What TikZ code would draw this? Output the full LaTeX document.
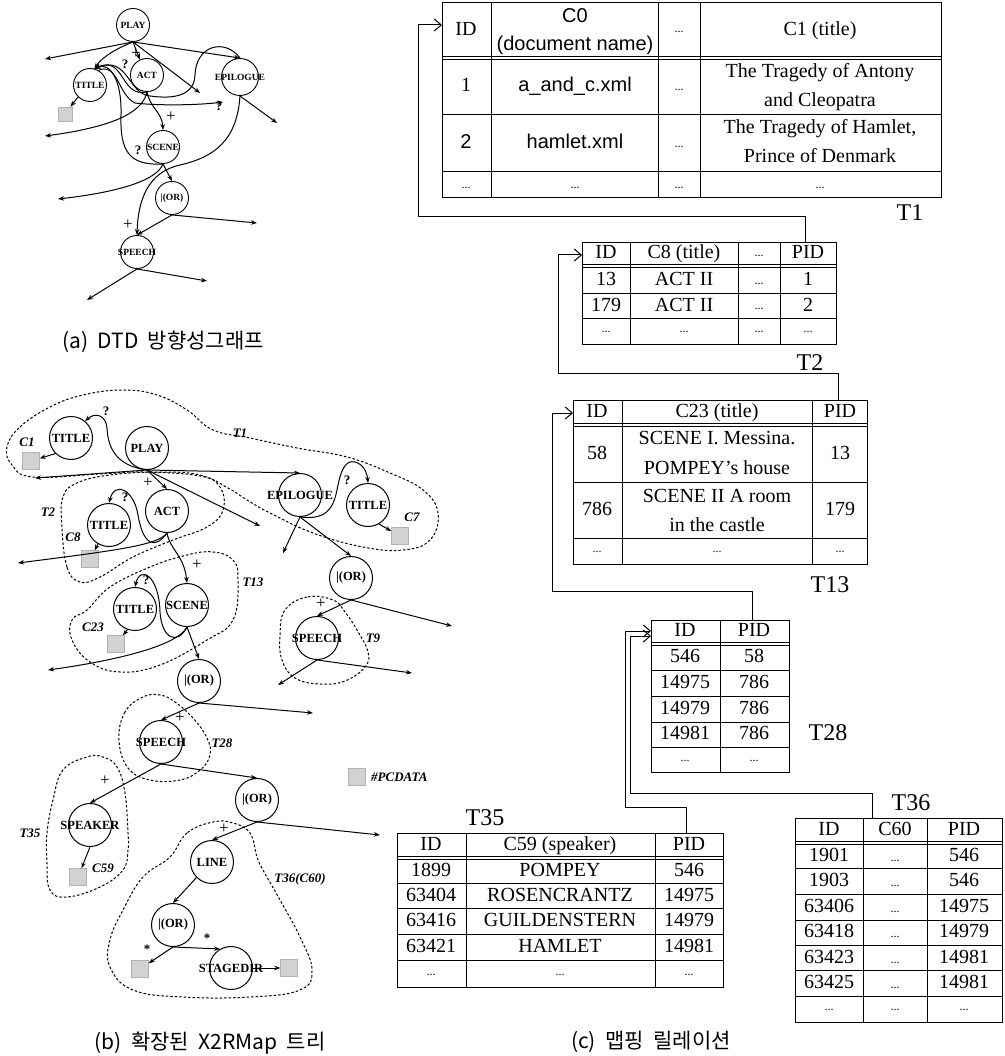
\documentclass[tikz,border=0pt]{standalone}
\usepackage{fontspec}
\setmainfont{Liberation Serif}
\setsansfont{Liberation Sans}
\newfontfamily\krfont{Noto Sans CJK KR}
\usetikzlibrary{arrows.meta}

\newcommand{\tdots}{{\fontsize{12}{12}\selectfont...}}
\newcommand{\captfont}{\krfont\fontsize{21}{21}\selectfont\spaceskip=0.45em\relax}

\tikzset{
  elem/.style={circle,draw,line width=1pt,minimum size=43pt,inner sep=0pt,
    label={[font=\fontsize{12.5}{13}\selectfont\bfseries,inner sep=0pt]center:#1}},
  selem/.style={circle,draw,line width=0.9pt,minimum size=33pt,inner sep=0pt,
    label={[font=\fontsize{9.5}{10}\selectfont\bfseries,inner sep=0pt]center:#1}},
  pcdata/.style={draw=gray!60,fill=gray!35,minimum size=17pt,inner sep=0pt},
  spcdata/.style={pcdata,minimum size=14pt},
  dtdedge/.style={line width=1pt,-{Stealth[length=6pt,width=4.5pt]}},
  mapzone/.style={line width=1pt,dash pattern=on 2.5pt off 2pt},
  occ/.style={font=\fontsize{13}{13}\selectfont\bfseries,inner sep=0pt},
  plusmark/.style={font=\fontsize{17}{17}\selectfont,inner sep=0pt},
  zonename/.style={font=\fontsize{13}{13}\selectfont\bfseries\itshape,inner sep=0pt},
  cell/.style={font=\fontsize{20}{24}\selectfont,inner sep=0pt,text height=14pt,text depth=4pt},
  tblframe/.style={draw,line width=1.2pt,inner sep=0pt,anchor=north west},
  tblline/.style={line width=1pt},
  tblname/.style={font=\fontsize{24}{24}\selectfont,inner sep=0pt},
  link/.style={line width=1pt,-{Straight Barb[length=7pt,width=12pt]}},
  capt/.style={font=\captfont,inner sep=0pt}
}

\begin{document}
\begin{tikzpicture}[x=1pt,y=-1pt]
  \useasboundingbox (0,0) rectangle (1004,1056);

  % (a) DTD graph
  \node[selem=PLAY] (aplay) at (133,25) {};
  \node[selem=TITLE] (atitle) at (90,85) {};
  \node[selem=ACT] (aact) at (147,75) {};
  \node[selem=EPILOGUE,minimum size=37pt] (aepi) at (240,77) {};
  \node[selem=SCENE] (ascene) at (163,147) {};
  \node[selem=|(OR)] (aor) at (172,198) {};
  \node[selem=SPEECH] (aspeech) at (137,252) {};
  \node[spcdata] (asq) at (65,114) {};

  \coordinate (aw1) at (45,59);
  \coordinate (aw2) at (200,93);
  \coordinate (aw3) at (277,123);
  \coordinate (aw4) at (257,223);
  \coordinate (aw5) at (87,300);
  \coordinate (aw6) at (207,281);
  \coordinate (aw7) at (223,102);
  \coordinate (aw8) at (45,136);
  \coordinate (aw9) at (58,199);

  \foreach \from/\to in {aplay.south/aw1,aplay.south/aw2,aplay.south/aepi.north,
      aplay.south/aact.115,atitle.225/asq,aepi.south/aw3,ascene.south/aor.north,
      aor.south/aspeech.north,aor.south/aw4,aspeech.south/aw5,aspeech.south/aw6}
    \draw[dtdedge] (\from) -- (\to);

  \draw[dtdedge] (aplay.south) .. controls (118,48) and (103,56) .. (atitle.75);
  \draw[dtdedge] (aact.south) .. controls (120,98) and (125,55) .. (atitle.75);
  \draw[dtdedge] (aepi.north) .. controls (225,38) and (196,45) .. (195,75)
    .. controls (194,100) and (165,98) .. (150,96)
    .. controls (128,94) and (128,55) .. (atitle.75);
  \draw[dtdedge] (ascene.south) .. controls (128,166) and (120,150) .. (121,115)
    .. controls (122,80) and (110,62) .. (atitle.75);
  \draw[dtdedge] (atitle.60) .. controls (118,62) and (118,95) .. (135,103)
    .. controls (160,106) and (200,105) .. (aw7);
  \draw[dtdedge] (aact.south) .. controls (143,110) and (120,126) .. (aw8);
  \draw[dtdedge] (ascene.south) .. controls (157,180) and (120,192) .. (aw9);
  \draw[dtdedge] (aact.south) .. controls (150,108) and (162,112) .. (ascene.north);
  \draw[dtdedge] (aepi.south) .. controls (237,140) and (215,157) .. (180,165)
    .. controls (148,172) and (138,200) .. (aspeech.north);

  \foreach \x/\y/\t [count=\i] in {125/64/?,219/106/?,138/150/?}
    \node[occ] (aq\i) at (\x,\y) {\t};
  \foreach \x/\y [count=\i] in {136/54,171/117,128/225}
    \node[plusmark] (ap\i) at (\x,\y) {+};

  \node[capt] (capa) at (163,342) {(a) DTD 방향성그래프};

  % (b) extended X2RMap tree
  \node[elem=PLAY] (bplay) at (147,448) {};
  \node[elem=TITLE] (bt1) at (71,438) {};
  \node[elem=EPILOGUE] (bepi) at (300,495) {};
  \node[elem=TITLE] (bt7) at (368,505) {};
  \node[elem=TITLE] (bt8) at (109,525) {};
  \node[elem=ACT] (bact) at (167,511) {};
  \node[elem=|(OR)] (bor1) at (351,578) {};
  \node[elem=SCENE] (bscene) at (187,605) {};
  \node[elem=TITLE] (bt23) at (135,609) {};
  \node[elem=|(OR)] (bor2) at (199,681) {};
  \node[elem=SPEECH] (bsp9) at (317,638) {};
  \node[elem=SPEECH] (bsp28) at (161,742) {};
  \node[elem=|(OR)] (bor3) at (257,800) {};
  \node[elem=SPEAKER] (bspk) at (90,825) {};
  \node[elem=LINE] (bline) at (212,862) {};
  \node[elem=|(OR)] (bor4) at (173,925) {};
  \node[elem=STAGEDIR] (bstage) at (231,968) {};

  \node[pcdata] (bsq1) at (31,461) {};
  \node[pcdata] (bsq8) at (90,559) {};
  \node[pcdata] (bsq7) at (400,536) {};
  \node[pcdata] (bsq23) at (116,644) {};
  \node[pcdata] (bsq59) at (78,877) {};
  \node[pcdata] (bsqa) at (140,969) {};
  \node[pcdata] (bsqb) at (289,968) {};

  \coordinate (bw1) at (35,478);
  \coordinate (bw2) at (260,526);
  \coordinate (bw3) at (283,553);
  \coordinate (bw4) at (452,626);
  \coordinate (bw5) at (278,685);
  \coordinate (bw6) at (412,673);
  \coordinate (bw7) at (313,713);
  \coordinate (bw8) at (380,835);
  \coordinate (bw9) at (18,563);
  \coordinate (bw10) at (48,670);

  \foreach \from/\to in {bt1.225/bsq1,bplay.south/bw1,bplay.south/bepi.north,
      bplay.south/bact.north,bplay.south/bw2,bt8.240/bsq8,bt7.300/bsq7,
      bepi.south/bw3,bepi.south/bor1.north,bor1.south/bsp9.north,bor1.south/bw4,
      bsp9.south/bw5,bsp9.south/bw6,bt23.250/bsq23,bscene.south/bor2.north,
      bor2.south/bsp28.north,bor2.south/bw7,bsp28.south/bspk.north,
      bsp28.south/bor3.north,bor3.south/bline.north,bor3.south/bw8,
      bspk.south/bsq59,bline.225/bor4.north,bor4.south/bsqa,
      bor4.south/bstage.120,bstage.east/bsqb}
    \draw[dtdedge] (\from) -- (\to);

  \draw[dtdedge] (bplay.south) .. controls (118,466) and (108,450) .. (107,428)
    .. controls (106,415) and (95,412) .. (bt1.50);
  \draw[dtdedge] (bact.south) .. controls (155,550) and (143,545) .. (138,515)
    .. controls (134,490) and (115,480) .. (bt8.north);
  \draw[dtdedge] (bact.south) .. controls (158,545) and (120,550) .. (bw9);
  \draw[dtdedge] (bact.south) .. controls (170,550) and (184,555) .. (bscene.north);
  \draw[dtdedge] (bepi.south) .. controls (325,520) and (333,510) .. (337,490)
    .. controls (341,468) and (346,460) .. (355,462)
    .. controls (363,464) and (367,472) .. (bt7.north);
  \draw[dtdedge] (bscene.south) .. controls (178,645) and (162,640) .. (160,612)
    .. controls (159,575) and (140,565) .. (bt23.north);
  \draw[dtdedge] (bscene.south) .. controls (178,645) and (120,660) .. (bw10);

  \foreach \x/\y [count=\i] in {106/411,125/497,347/480,146/580}
    \node[occ] (bq\i) at (\x,\y) {?};
  \foreach \x/\y [count=\i] in {148/483,197/565,321/604,180/718,105/781,224/829}
    \node[plusmark] (bp\i) at (\x,\y) {+};
  \foreach \x/\y [count=\i] in {147/949,207/938}
    \node[occ] (bs\i) at (\x,\y) {*};

  % mapping zones
  \draw[mapzone] plot[smooth cycle,tension=0.7] coordinates {(7,447) (20,427) (50,407)
    (83,395) (123,390) (157,395) (187,410) (213,430) (250,438) (297,448) (347,457)
    (390,473) (423,490) (438,513) (430,540) (403,550) (363,547) (313,533) (270,513)
    (247,500) (228,488) (200,476) (143,472) (100,474) (33,477) (12,465)};
  \draw[mapzone] plot[smooth cycle,tension=0.7] coordinates {(80,582) (67,567) (62,527)
    (63,497) (77,483) (110,475) (160,472) (200,475) (220,487) (223,510) (207,527)
    (173,540) (133,557) (100,577)};
  \draw[mapzone] plot[smooth cycle,tension=0.7] coordinates {(213,552) (233,560) (238,580)
    (233,620) (207,640) (160,665) (120,672) (90,662) (72,640) (72,620) (87,610)
    (110,587) (150,567) (187,555)};
  \draw[mapzone] plot[smooth cycle,tension=0.7] coordinates {(333,600) (307,597) (285,610)
    (280,635) (282,660) (295,678) (320,684) (345,681) (365,667) (368,652) (357,630)
    (345,612)};
  \draw[mapzone] plot[smooth cycle,tension=0.7] coordinates {(143,697) (125,712) (119,740)
    (128,768) (150,780) (180,780) (200,770) (210,755) (207,738) (193,718) (175,702)
    (160,695)};
  \draw[mapzone] plot[smooth cycle,tension=0.7] coordinates {(87,757) (63,770) (53,800)
    (47,833) (47,863) (50,890) (67,897) (100,887) (123,870) (128,850) (128,833)
    (125,793) (117,767) (103,757)};
  \draw[mapzone] plot[smooth cycle,tension=0.7] coordinates {(213,822) (187,833) (170,857)
    (143,877) (123,910) (110,940) (110,967) (133,990) (183,997) (250,997) (300,990)
    (312,970) (300,937) (280,900) (263,870) (257,857) (250,833) (233,823)};

  \foreach \x/\y/\t [count=\i] in {240/433/T1,27/442/C1,48/512/T2,73/537/C8,
      253/582/T13,412/517/C7,93/627/C23,373/638/T9,222/743/T28,30/833/T35,
      103/868/C59,300/879/T36(C60)}
    \node[zonename] (zn\i) at (\x,\y) {\t};
  \node[pcdata] (legsq) at (357,777) {};
  \node[zonename,anchor=west] (legtxt) at (371,777) {\#PCDATA};

  \node[capt] (capb) at (210,1043) {(b) 확장된 X2RMap 트리};

  % (c) mapping relations
  % T1
  \node[tblframe,minimum width=499pt,minimum height=195pt] (one) at (442,2) {};
  \draw[tblline] (442,57) -- (941,57) (442,60) -- (941,60);
  \foreach \y in {115,172} \draw[tblline] (442,\y) -- (941,\y);
  \foreach \x in {491,658,700} \draw[tblline] (\x,2) -- (\x,197);
  \foreach \x/\y/\t [count=\i] in {466/31/ID,575/18/{\sffamily C0},
      575/46/{\sffamily (document name)},679/28/\tdots,820/31/C1 (title),
      466/87/1,575/87/{\sffamily a\_and\_c.xml},679/86/\tdots,
      820/73/The Tragedy of Antony,820/102/and Cleopatra,
      466/144/{\sffamily 2},575/144/{\sffamily hamlet.xml},679/143/\tdots,
      820/129/{The Tragedy of Hamlet,},820/158/Prince of Denmark,
      466/184/\tdots,575/184/\tdots,679/184/\tdots,820/184/\tdots}
    \node[cell] (one\i) at (\x,\y) {\t};
  \node[tblname] (onename) at (910,213) {T1};

  % T2
  \node[tblframe,minimum width=254pt,minimum height=102pt] (two) at (582,242) {};
  \draw[tblline] (582,265) -- (836,265) (582,268) -- (836,268);
  \foreach \y in {293,318} \draw[tblline] (582,\y) -- (836,\y);
  \foreach \x in {630,738,780} \draw[tblline] (\x,242) -- (\x,344);
  \foreach \x/\y/\t [count=\i] in {606/254/ID,684/254/C8 (title),759/252/\tdots,808/254/PID,
      606/281/13,684/281/ACT II,759/279/\tdots,808/281/1,
      606/306/179,684/306/ACT II,759/304/\tdots,808/306/2,
      606/327/\tdots,684/327/\tdots,759/327/\tdots,808/327/\tdots}
    \node[cell] (two\i) at (\x,\y) {\t};
  \node[tblname] (twoname) at (810,363) {T2};

  % T13
  \node[tblframe,minimum width=294pt,minimum height=164pt] (thir) at (573,400) {};
  \draw[tblline] (573,423) -- (867,423) (573,426) -- (867,426);
  \foreach \y in {482,538} \draw[tblline] (573,\y) -- (867,\y);
  \foreach \x in {622,812} \draw[tblline] (\x,400) -- (\x,564);
  \foreach \x/\y/\t [count=\i] in {597/412/ID,717/412/C23 (title),840/412/PID,
      597/454/58,717/439/SCENE I. Messina.,717/469/POMPEY's house,840/454/13,
      597/510/786,717/497/SCENE II A room,717/526/in the castle,840/510/179,
      597/547/\tdots,717/547/\tdots,840/547/\tdots}
    \node[cell] (thir\i) at (\x,\y) {\t};
  \node[tblname] (thirname) at (830,585) {T13};

  % T28
  \node[tblframe,minimum width=138pt,minimum height=152pt] (teight) at (651,620) {};
  \draw[tblline] (651,642) -- (789,642) (651,645) -- (789,645);
  \foreach \y in {670,696,722,747} \draw[tblline] (651,\y) -- (789,\y);
  \draw[tblline] (720,620) -- (720,772);
  \foreach \x/\y/\t [count=\i] in {685/631/ID,754/631/PID,685/657/546,754/657/58,
      685/683/14975,754/683/786,685/709/14979,754/709/786,685/734/14981,754/734/786,
      685/756/\tdots,754/756/\tdots}
    \node[cell] (teight\i) at (\x,\y) {\t};
  \node[tblname] (teightname) at (828,733) {T28};

  % T35
  \node[tblframe,minimum width=326pt,minimum height=154pt] (tfive) at (397,833) {};
  \draw[tblline] (397,856) -- (723,856) (397,859) -- (723,859);
  \foreach \y in {883,908,934,960} \draw[tblline] (397,\y) -- (723,\y);
  \foreach \x in {466,655} \draw[tblline] (\x,833) -- (\x,987);
  \foreach \x/\y/\t [count=\i] in {431/845/ID,560/845/C59 (speaker),689/845/PID,
      431/871/1899,560/871/POMPEY,689/871/546,
      431/896/63404,560/896/ROSENCRANTZ,689/896/14975,
      431/921/63416,560/921/GUILDENSTERN,689/921/14979,
      431/947/63421,560/947/HAMLET,689/947/14981,
      431/970/\tdots,560/970/\tdots,689/970/\tdots}
    \node[cell] (tfive\i) at (\x,\y) {\t};
  \node[tblname] (tfivename) at (485,818) {T35};

  % T36
  \node[tblframe,minimum width=207pt,minimum height=204pt] (tsix) at (795,818) {};
  \draw[tblline] (795,841) -- (1002,841) (795,844) -- (1002,844);
  \foreach \y in {868,894,920,945,970,996} \draw[tblline] (795,\y) -- (1002,\y);
  \foreach \x in {863,927} \draw[tblline] (\x,818) -- (\x,1022);
  \foreach \x/\y/\t [count=\i] in {829/830/ID,895/830/C60,964/830/PID,
      829/856/1901,895/856/\tdots,964/856/546,
      829/881/1903,895/881/\tdots,964/881/546,
      829/907/63406,895/907/\tdots,964/907/14975,
      829/932/63418,895/932/\tdots,964/932/14979,
      829/958/63423,895/958/\tdots,964/958/14981,
      829/983/63425,895/983/\tdots,964/983/14981,
      829/1005/\tdots,895/1005/\tdots,964/1005/\tdots}
    \node[cell] (tsix\i) at (\x,\y) {\t};
  \node[tblname] (tsixname) at (911,803) {T36};

  % PID -> ID links
  \coordinate (oneid) at (442,25);
  \coordinate (twoup) at (805,242);
  \coordinate (twoid) at (582,255);
  \coordinate (thirup) at (838,400);
  \coordinate (thirid) at (573,413);
  \coordinate (teightup) at (752,620);
  \coordinate (teightida) at (651,631);
  \coordinate (teightidb) at (651,636);
  \coordinate (tfiveup) at (686,833);
  \coordinate (tsixup) at (872,818);
  \draw[link] (twoup) -- ++(0,-25) -| ([xshift=-24pt]oneid) -- (oneid);
  \draw[link] (thirup) -- ++(0,-27) -| ([xshift=-24pt]twoid) -- (twoid);
  \draw[link] (teightup) -- ++(0,-29) -| ([xshift=-21pt]thirid) -- (thirid);
  \draw[link] (tfiveup) -- ++(0,-26) -| ([xshift=-26pt]teightida) -- (teightida);
  \draw[link] (tsixup) -- ++(0,-25) -| ([xshift=-21pt]teightidb) -- (teightidb);

  \node[capt] (capc) at (651,1042) {(c) 맵핑 릴레이션};
\end{tikzpicture}
\end{document}
